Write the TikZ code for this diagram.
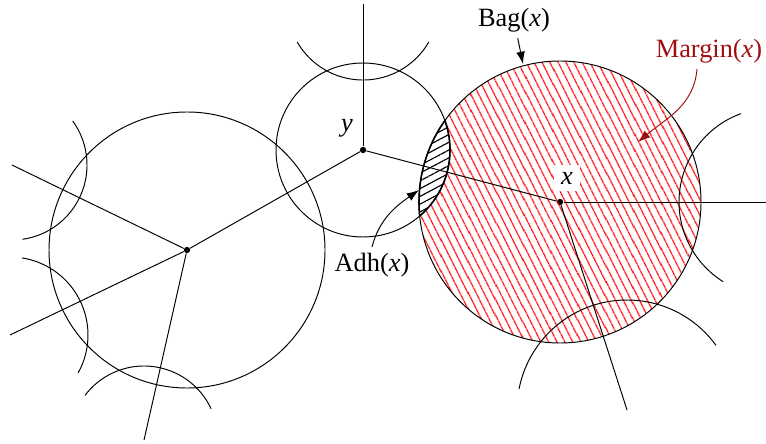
\documentclass[tikz,border=0pt]{standalone}
\usepackage{fontspec}
\setmainfont{Liberation Serif}
\usetikzlibrary{arrows.meta,patterns.meta}
\definecolor{margred}{HTML}{9E1010}

\begin{document}
\begin{tikzpicture}[x=0.02cm, y=0.02cm, >={Latex[length=7pt,width=5pt]},
  every node/.style={font=\fontsize{15}{18}\selectfont},
  bagline/.style={line width=0.55pt},
  dot/.style={circle, fill, inner sep=0pt, minimum size=3.6pt},
  redhatch/.style={pattern={Lines[angle=-63,distance=4pt,line width=0.85pt]}, pattern color=red},
  blackhatch/.style={pattern={Lines[angle=28,distance=3.9pt,line width=0.65pt]}, pattern color=black}]
  \clip (0,0) rectangle (766,443);

  % centres of the bags
  \node[dot] (l) at (187,193) {};
  \node[dot] (y) at (363,293) {};
  \node[dot] (x) at (560,241) {};

  % far ends of the rays (centres of the neighbour bags)
  \coordinate (l1) at (12,278);
  \coordinate (l2) at (10,108);
  \coordinate (l3) at (144,3);
  \coordinate (yt) at (363,439);
  \coordinate (xr) at (773,241);
  \coordinate (xb) at (627,33);

  % Margin(x) and Adh(x)
  \begin{scope}
    \clip (x.center) circle[radius=141];
    \fill[redhatch, even odd rule] (x.center) circle[radius=141] (y.center) circle[radius=87];
    \fill[blackhatch] (y.center) circle[radius=87];
    \draw[line width=0.9pt] (y.center) circle[radius=87];
  \end{scope}
  \begin{scope}
    \clip (y.center) circle[radius=87];
    \draw[line width=0.9pt] (x.center) circle[radius=141];
  \end{scope}

  % bags
  \draw[bagline] (l.center) circle[radius=138];
  \draw[bagline] (y.center) circle[radius=87];
  \draw[bagline] (x.center) circle[radius=141];

  % neighbour bags, only partly seen
  \draw[bagline] (l1) ++(-82:75) arc[start angle=-82, end angle=36, radius=75];
  \draw[bagline] (l2) ++(-29:78) arc[start angle=-29, end angle=81, radius=78];
  \draw[bagline] (l3) ++(25:74) arc[start angle=25, end angle=143, radius=74];
  \draw[bagline] (yt) ++(210:76) arc[start angle=210, end angle=330, radius=76];
  \draw[bagline] (xr) ++(110:94) arc[start angle=110, end angle=238, radius=94];
  \draw[bagline] (xb) ++(36:110) arc[start angle=36, end angle=169, radius=110];

  % tree edges
  \draw[bagline] (l) -- (y);
  \draw[bagline] (y) -- (x);
  \draw[bagline] (l) -- (l1);
  \draw[bagline] (l) -- (l2);
  \draw[bagline] (l) -- (l3);
  \draw[bagline] (y) -- (yt);
  \draw[bagline] (x) -- (xr);
  \draw[bagline] (x) -- (xb);

  % labels
  \node (ylab) at (347,315) {\textit{y}};
  \node[fill=white, inner sep=4pt] (xlab) at (567,265) {\textit{x}};
  \node (bag) at (514,423) {Bag(\textit{x})};
  \node[text=margred] (margin) at (709,392) {Margin(\textit{x})};
  \node (adh) at (372,178) {Adh(\textit{x})};

  \coordinate (bagtip) at (523,379);
  \coordinate (margtip) at (638,301);
  \coordinate (adhtip) at (419,253);

  \draw[->, bagline] (bag) -- (bagtip);
  \draw[->, bagline, margred] ([xshift=-0.24cm]margin.south) to[out=-95, in=40] (margtip);
  \draw[->, bagline] (adh.north) to[out=75, in=215] (adhtip);
\end{tikzpicture}
\end{document}
